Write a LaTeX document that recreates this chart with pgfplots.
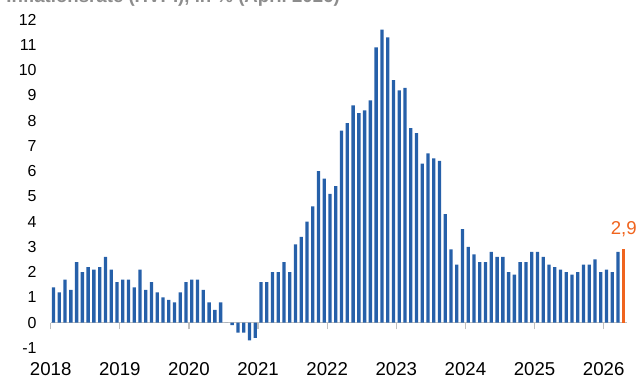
\documentclass[border=0pt]{standalone}
\usepackage{pgfplots}
\usepackage{pgfplotstable}
\pgfplotsset{compat=1.18}
\usepackage{fontspec}
\setmainfont{Liberation Sans}
\definecolor{barblue}{HTML}{2660A9}
\definecolor{barorange}{HTML}{F0641E}
\definecolor{axisgray}{HTML}{BFBFBF}
\definecolor{titlegray}{HTML}{8C8C8C}

% monthly values, Jan 2018 = 0.5
\pgfplotstableread{
x y
0.5 1.4
1.5 1.2
2.5 1.7
3.5 1.3
4.5 2.4
5.5 2.0
6.5 2.2
7.5 2.1
8.5 2.2
9.5 2.6
10.5 2.1
11.5 1.6
12.5 1.7
13.5 1.7
14.5 1.4
15.5 2.1
16.5 1.3
17.5 1.6
18.5 1.2
19.5 1.0
20.5 0.9
21.5 0.8
22.5 1.2
23.5 1.6
24.5 1.7
25.5 1.7
26.5 1.3
27.5 0.8
28.5 0.5
29.5 0.8
30.5 0.0
31.5 -0.1
32.5 -0.4
33.5 -0.4
34.5 -0.7
35.5 -0.6
36.5 1.6
37.5 1.6
38.5 2.0
39.5 2.0
40.5 2.4
41.5 2.0
42.5 3.1
43.5 3.4
44.5 4.0
45.5 4.6
46.5 6.0
47.5 5.7
48.5 5.1
49.5 5.4
50.5 7.6
51.5 7.9
52.5 8.6
53.5 8.3
54.5 8.4
55.5 8.8
56.5 10.9
57.5 11.6
58.5 11.3
59.5 9.6
60.5 9.2
61.5 9.3
62.5 7.7
63.5 7.5
64.5 6.3
65.5 6.7
66.5 6.5
67.5 6.4
68.5 4.3
69.5 2.9
70.5 2.3
71.5 3.7
72.5 3.0
73.5 2.7
74.5 2.4
75.5 2.4
76.5 2.8
77.5 2.6
78.5 2.6
79.5 2.0
80.5 1.9
81.5 2.4
82.5 2.4
83.5 2.8
84.5 2.8
85.5 2.6
86.5 2.3
87.5 2.2
88.5 2.1
89.5 2.0
90.5 1.9
91.5 2.0
92.5 2.3
93.5 2.3
94.5 2.5
95.5 2.0
96.5 2.1
97.5 2.0
98.5 2.8
}\monthly

\pgfplotstableread{
x y
99.5 2.9
}\latest

\begin{document}
\begin{tikzpicture}
\begin{axis}[
  at={(0,0)}, anchor=south west,
  scale only axis, width=576bp, height=328.25bp,
  xmin=0, xmax=100, ymin=-1, ymax=12,
  axis x line*=middle, axis y line*=left,
  hide obscured x ticks=false,
  y axis line style={draw=none},
  x axis line style={draw=axisgray, line width=1.5bp},
  xtick={0,12,24,36,48,60,72,84,96},
  xticklabels={2018,2019,2020,2021,2022,2023,2024,2025,2026},
  xtick style={draw=axisgray, line width=1.2bp},
  major tick length=6.7bp,
  tick align=outside,
  ytick={-1,0,...,12}, ytick style={draw=none},
  /pgf/number format/assume math mode=true,
  yticklabel style={font=\fontsize{16}{16}\selectfont, anchor=east, xshift=-4bp, text=black},
  xticklabel style={font=\fontsize{18.7}{18.7}\selectfont, anchor=north, yshift=-29.5bp, text=black},
  clip=false,
]
\addplot[ybar, bar width=3.3bp, bar shift=0pt, fill=barblue, draw=none] table[x=x, y=y] {\monthly};
\addplot[ybar, bar width=3.3bp, bar shift=0pt, fill=barorange, draw=none] table[x=x, y=y] {\latest};
\node[text=barorange, font=\fontsize{18.7}{18.7}\selectfont, inner sep=0] at (axis cs:99.5,3.71) {2,9};
\end{axis}
\node[anchor=base west, font=\bfseries\fontsize{18.7}{18.7}\selectfont, text=titlegray, inner sep=0] at (-44.5bp,345.3bp) {Inflationsrate (HVPI), in \% (April 2026)};
\pgfresetboundingbox
\path[use as bounding box] (-50.7bp,-32.15bp) rectangle (588.3bp,347.85bp);
\end{tikzpicture}
\end{document}
